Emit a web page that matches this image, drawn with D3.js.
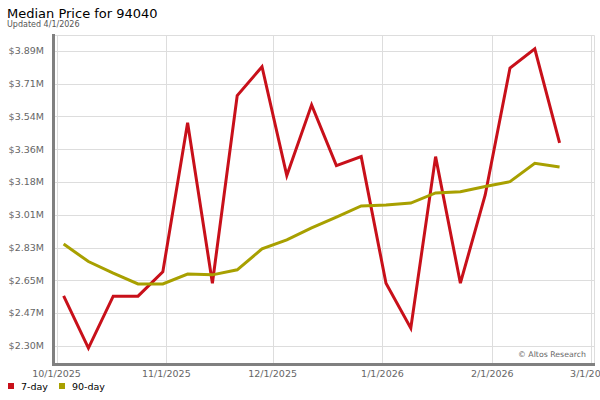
<!DOCTYPE html>
<html>
<head>
<meta charset="utf-8">
<script src="https://cdn.jsdelivr.net/npm/d3@7.9.0/dist/d3.min.js"></script>
<style>
  body { margin: 0; background: #fff; }
  svg { font-family: "DejaVu Sans", sans-serif; }
</style>
</head>
<body>
<svg width="600" height="400"></svg>
<script>
// weekly dates (fridays)
const dates = [
  "2025-10-03", "2025-10-10", "2025-10-17", "2025-10-24", "2025-10-31",
  "2025-11-07", "2025-11-14", "2025-11-21", "2025-11-28", "2025-12-05",
  "2025-12-12", "2025-12-19", "2025-12-26", "2026-01-02", "2026-01-09",
  "2026-01-16", "2026-01-23", "2026-01-30", "2026-02-06", "2026-02-13",
  "2026-02-20",
];

// median price in $M
const sevenDay = [
  2.568, 2.286, 2.566, 2.566, 2.697, 3.502, 2.636, 3.648, 3.804, 3.217,
  3.598, 3.27, 3.319, 2.636, 2.393, 3.319, 2.636, 3.112, 3.797, 3.9, 3.393,
];
const ninetyDay = [
  2.847, 2.753, 2.69, 2.632, 2.632, 2.685, 2.681, 2.708, 2.821, 2.87,
  2.934, 2.992, 3.053, 3.058, 3.068, 3.123, 3.129, 3.158, 3.184, 3.283, 3.263,
];

const yTicks = [2.298, 2.4748, 2.6516, 2.8284, 3.0052, 3.182, 3.3588, 3.5356, 3.7124, 3.8892];
const yTickLabels = ["$2.30M", "$2.47M", "$2.65M", "$2.83M", "$3.01M", "$3.18M", "$3.36M", "$3.54M", "$3.71M", "$3.89M"];
const xTicks = ["2025-10-01", "2025-11-01", "2025-12-01", "2026-01-01", "2026-02-01", "2026-03-01"];
const xTickLabels = ["10/1/2025", "11/1/2025", "12/1/2025", "1/1/2026", "2/1/2026", "3/1/2026"];

const series = [
  { name: "7-day", values: sevenDay, color: "#c8101a" },
  { name: "90-day", values: ninetyDay, color: "#a8a000" },
];

const parse = d3.utcParse("%Y-%m-%d");
const m = { left: 53, right: 595, top: 35, bottom: 364 };

const x = d3.scaleUtc()
  .domain([parse("2025-09-30"), parse("2026-03-02")])
  .range([m.left, m.right]);
const y = d3.scaleLinear().domain([2.2, 3.975]).range([m.bottom, m.top]);

const svg = d3.select("svg");

// title
svg.append("text").attr("x", 7).attr("y", 18)
  .attr("font-size", 13).attr("fill", "#000").text("Median Price for 94040");
svg.append("text").attr("x", 7).attr("y", 27)
  .attr("font-size", 8).attr("fill", "#555").text("Updated 4/1/2026");

// grid
svg.append("g").selectAll("line").data(yTicks).join("line")
  .attr("x1", m.left).attr("x2", m.right)
  .attr("y1", (d) => Math.round(y(d)) + 0.5).attr("y2", (d) => Math.round(y(d)) + 0.5)
  .attr("stroke", "#ddd");
svg.append("g").selectAll("line").data(xTicks).join("line")
  .attr("x1", (d) => Math.round(x(parse(d))) + 0.5).attr("x2", (d) => Math.round(x(parse(d))) + 0.5)
  .attr("y1", m.top).attr("y2", m.bottom)
  .attr("stroke", "#ddd");
// plot border top/right
svg.append("path")
  .attr("d", `M${m.left},${m.top + 0.5}H${m.right - 0.5}V${m.bottom}`)
  .attr("fill", "none").attr("stroke", "#ddd");

// y labels
svg.append("g").selectAll("text").data(yTicks).join("text")
  .attr("x", 44).attr("y", (d) => y(d)).attr("dy", "0.35em")
  .attr("text-anchor", "end").attr("font-size", 9.5).attr("fill", "#666")
  .text((d, i) => yTickLabels[i]);

// x labels (last one runs off the edge, same as the original)
svg.append("g").selectAll("text").data(xTicks).join("text")
  .attr("x", (d) => x(parse(d))).attr("y", 377)
  .attr("text-anchor", "middle").attr("font-size", 9.5).attr("fill", "#666")
  .text((d, i) => xTickLabels[i]);

// lines
let line = d3.line()
  .x((d, i) => x(parse(dates[i])))
  .y((d) => y(d));

series.forEach((s) => {
  svg.append("path")
    .attr("d", line(s.values))
    .attr("fill", "none")
    .attr("stroke", s.color)
    .attr("stroke-width", 3)
    .attr("stroke-linejoin", "miter");
});

// axis bars
svg.append("path")
  .attr("d", `M${m.left + 0.5},${m.top - 1}V${m.bottom + 0.5}H${m.right}`)
  .attr("fill", "none").attr("stroke", "#808080").attr("stroke-width", 3);

// copyright
svg.append("text").attr("x", 586).attr("y", 357)
  .attr("text-anchor", "end").attr("font-size", 7.8).attr("fill", "#666")
  .text("© Altos Research");

// legend
let lx = [8, 59];
series.forEach((s, i) => {
  svg.append("rect").attr("x", lx[i]).attr("y", 383)
    .attr("width", 6).attr("height", 6).attr("fill", s.color);
  svg.append("text").attr("x", lx[i] + 13).attr("y", 389.5)
    .attr("font-size", 9.5).attr("fill", "#000").text(s.name);
});
</script>
</body>
</html>
